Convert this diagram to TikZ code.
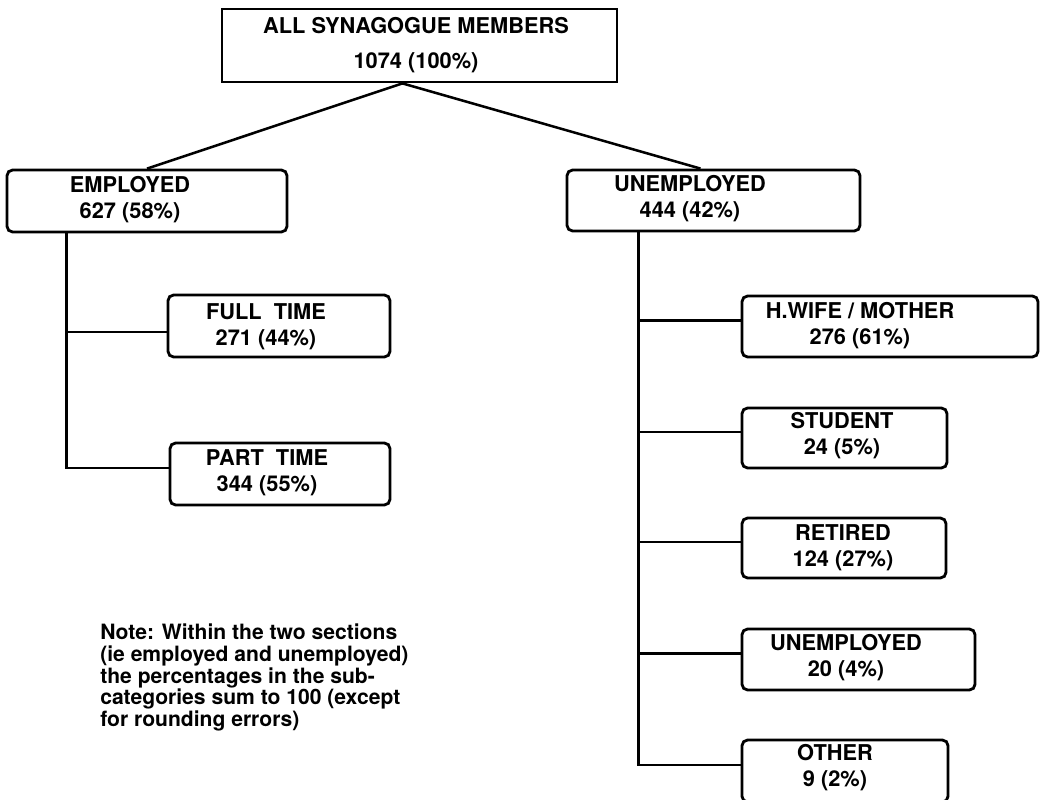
\documentclass[tikz,border=0pt]{standalone}
\usepackage{fontspec}
\setmainfont{TeX Gyre Heros}
\usetikzlibrary{calc}

\tikzset{
  box/.style 2 args={draw,line width=2pt,rounded corners=4pt,inner sep=0pt,
    minimum width=#1*0.025cm,minimum height=#2*0.025cm},
  lbl/.style={align=center,inner sep=0pt,font=\fontsize{15.5}{18.5}\selectfont\bfseries},
  conn/.style={line width=1.8pt},
}

\begin{document}
\begin{tikzpicture}[x=0.025cm,y=-0.025cm]
\useasboundingbox (0,0) rectangle (1041,800);
% boxes
\node[box={395}{73},rounded corners=0pt] (all) at (419.5,45.5) {};
\node[box={280}{62}] (emp) at (147,201) {};
\node[box={293}{61}] (unemp) at (713.5,200.5) {};
\node[box={222}{62}] (full) at (279,326) {};
\node[box={220}{62}] (part) at (280,474) {};
\node[box={296}{61}] (wife) at (890,326.5) {};
\node[box={205}{60}] (stud) at (844.5,438) {};
\node[box={204}{60}] (ret) at (844,548) {};
\node[box={233}{61}] (unemp2) at (858.5,659.5) {};
\node[box={206}{62}] (oth) at (845,771) {};
% texts
\node[lbl,font=\fontsize{15.5}{25}\selectfont\bfseries] (allt) at (416,45) {ALL SYNAGOGUE MEMBERS\\1074 (100\%)};
\node[lbl] (empt) at (130,200) {EMPLOYED\\627 (58\%)};
\node[lbl] (unempt) at (690,199) {UNEMPLOYED\\444 (42\%)};
\node[lbl] (fullt) at (266,327) {FULL\ \ TIME\\271 (44\%)};
\node[lbl] (partt) at (267,473) {PART\ \ TIME\\344 (55\%)};
\node[lbl] (wifet) at (860,326) {H.WIFE / MOTHER\\276 (61\%)};
\node[lbl] (studt) at (842,436) {STUDENT\\24 (5\%)};
\node[lbl] (rett) at (843,548) {RETIRED\\124 (27\%)};
\node[lbl] (unemp2t) at (846,658) {UNEMPLOYED\\20 (4\%)};
\node[lbl] (otht) at (835,768) {OTHER\\9 (2\%)};
\node[anchor=north west,align=left,inner sep=0pt,font=\fontsize{15}{15.3}\selectfont\bfseries] (note) at (100,624)
  {Note: Within the two sections\\(ie employed and unemployed)\\the percentages in the sub-\\categories sum to 100 (except\\for rounding errors)};
% connectors
\coordinate (apex) at ($(all.south)+(-17,0)$);
\draw[conn] (emp.north) -- (apex) -- ($(unemp.north)+(-13,0)$);
\coordinate (ltop) at ($(emp.south west)+(61,0)$);
\draw[conn] (ltop) |- ($(full.west)+(0,6)$);
\draw[conn] (ltop) |- ($(part.west)+(0,-6)$);
\coordinate (rtop) at ($(unemp.south west)+(73,0)$);
\foreach \b in {wife,stud,ret,unemp2,oth}
  \draw[conn] (rtop) |- ($(\b.west)+(0,-6)$);
\end{tikzpicture}
\end{document}
